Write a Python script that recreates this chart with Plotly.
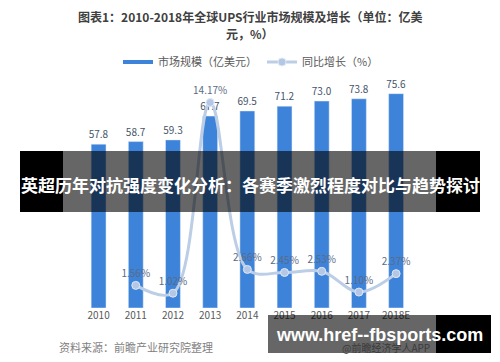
import plotly.graph_objects as go

years = ["2010", "2011", "2012", "2013", "2014", "2015", "2016", "2017", "2018E"]
market_size = [57.8, 58.7, 59.3, 67.7, 69.5, 71.2, 73.0, 73.8, 75.6]
growth_years = ["2011", "2012", "2013", "2014", "2015", "2016", "2017", "2018E"]
growth_pct = [1.56, 1.02, 14.17, 2.66, 2.45, 2.53, 1.10, 2.37]

bar_name = "市场规模（亿美元）"
line_name = "同比增长（%）"
title_line1 = "图表1：2010-2018年全球UPS行业市场规模及增长（单位：亿美"
title_line2 = "元，%）"
overlay_text = "英超历年对抗强度变化分析：各赛季激烈程度对比与趋势探讨"
site_text = "www.href--fbsports.com"
source_text = "资料来源：前瞻产业研究院整理"
app_text = "@前瞻经济学人APP"

BAR_COLOR = "#3d83da"
LINE_COLOR = "#bccde6"
FONT = "Noto Sans CJK SC, Open Sans, sans-serif"

W, H = 500, 362
ML, MR, MT, MB = 80, 82, 88, 54
PH = H - MT - MB

def py(px):
    # pixel y (from top) -> paper y
    return 1 - (px - MT) / PH

def px_x(px):
    return (px - ML) / (W - ML - MR)

fig = go.Figure()

fig.add_trace(go.Bar(
    x=years, y=market_size, name=bar_name, marker_color=BAR_COLOR,
    texttemplate="%{y:.1f}", textposition="outside", constraintext="none",
    textfont=dict(size=10, color="#44546a", family=FONT),
    cliponaxis=False, showlegend=False, yaxis="y",
))
# legend stand-in for bars (thick line swatch)
fig.add_trace(go.Scatter(
    x=[None], y=[None], mode="lines", name=bar_name,
    line=dict(color=BAR_COLOR, width=4), showlegend=True,
))
fig.add_trace(go.Scatter(
    x=growth_years, y=growth_pct, name=line_name, yaxis="y2",
    mode="lines+markers+text", line=dict(color=LINE_COLOR, width=3, shape="spline"),
    marker=dict(size=8, color="#b4c8e6", line=dict(color="#dfe8f5", width=1)),
    text=[f"{v:.2f}%" for v in growth_pct], textposition="top center",
    textfont=dict(size=10, color="#5b6b85", family=FONT),
    cliponaxis=False,
))

shapes = []
# central banner
for x0, x1, col in [(20, 63, "black"), (63, 436, "rgba(0,0,0,0.6)"), (436, 480, "black")]:
    shapes.append(dict(type="rect", xref="paper", yref="paper",
                       x0=px_x(x0), x1=px_x(x1), y0=py(212), y1=py(151),
                       fillcolor=col, line=dict(width=0), layer="above"))
# bottom banner
for x0, x1, col in [(268, 436, "rgba(0,0,0,0.6)"), (436, 491, "black")]:
    shapes.append(dict(type="rect", xref="paper", yref="paper",
                       x0=px_x(x0), x1=px_x(x1), y0=py(353), y1=py(315),
                       fillcolor=col, line=dict(width=0), layer="above"))

annotations = [
    dict(text="<b>" + title_line1 + "</b>", xref="paper", yref="paper",
         x=px_x(250), y=py(16), showarrow=False,
         font=dict(size=12, color="#404040", family=FONT),
         xanchor="center", yanchor="middle"),
    dict(text="<b>" + title_line2 + "</b>", xref="paper", yref="paper",
         x=px_x(250), y=py(33), showarrow=False,
         font=dict(size=12, color="#404040", family=FONT),
         xanchor="center", yanchor="middle"),
    dict(text=source_text, xref="paper", yref="paper", x=px_x(136), y=py(347),
         showarrow=False, font=dict(size=11, color="#7f7f7f", family=FONT),
         xanchor="center", yanchor="middle"),
    dict(text=app_text, xref="paper", yref="paper", x=px_x(386), y=py(347),
         showarrow=False, font=dict(size=10, color="#3a3a3a", family=FONT),
         xanchor="center", yanchor="middle"),
    dict(text="<b>" + overlay_text + "</b>", xref="paper", yref="paper",
         x=px_x(250), y=py(184), showarrow=False,
         font=dict(size=17, color="white", family=FONT),
         xanchor="center", yanchor="middle"),
    dict(text="<b>" + site_text + "</b>", xref="paper", yref="paper",
         x=px_x(379), y=py(335), showarrow=False,
         font=dict(size=18, color="white", family="Liberation Sans, Arial, sans-serif"),
         xanchor="center", yanchor="middle"),
]

fig.update_layout(
    width=W, height=H,
    margin=dict(l=ML, r=MR, t=MT, b=MB),
    paper_bgcolor="white", plot_bgcolor="white",
    font=dict(family=FONT, color="#595959"),
    bargap=0.6,
    xaxis=dict(type="category", showgrid=False, showline=False, zeroline=False,
               ticks="", tickfont=dict(size=10, color="#595959", family=FONT)),
    yaxis=dict(range=[0, PH / 2.835], visible=False, showgrid=False),
    yaxis2=dict(range=[0, PH / 14.5], overlaying="y", side="right",
                visible=False, showgrid=False),
    legend=dict(orientation="h", x=px_x(251), xanchor="center", y=py(62), yanchor="middle",
                font=dict(size=11, color="#595959", family=FONT),
                bgcolor="rgba(0,0,0,0)"),
    shapes=shapes, annotations=annotations,
)

fig.write_html("out.html")
